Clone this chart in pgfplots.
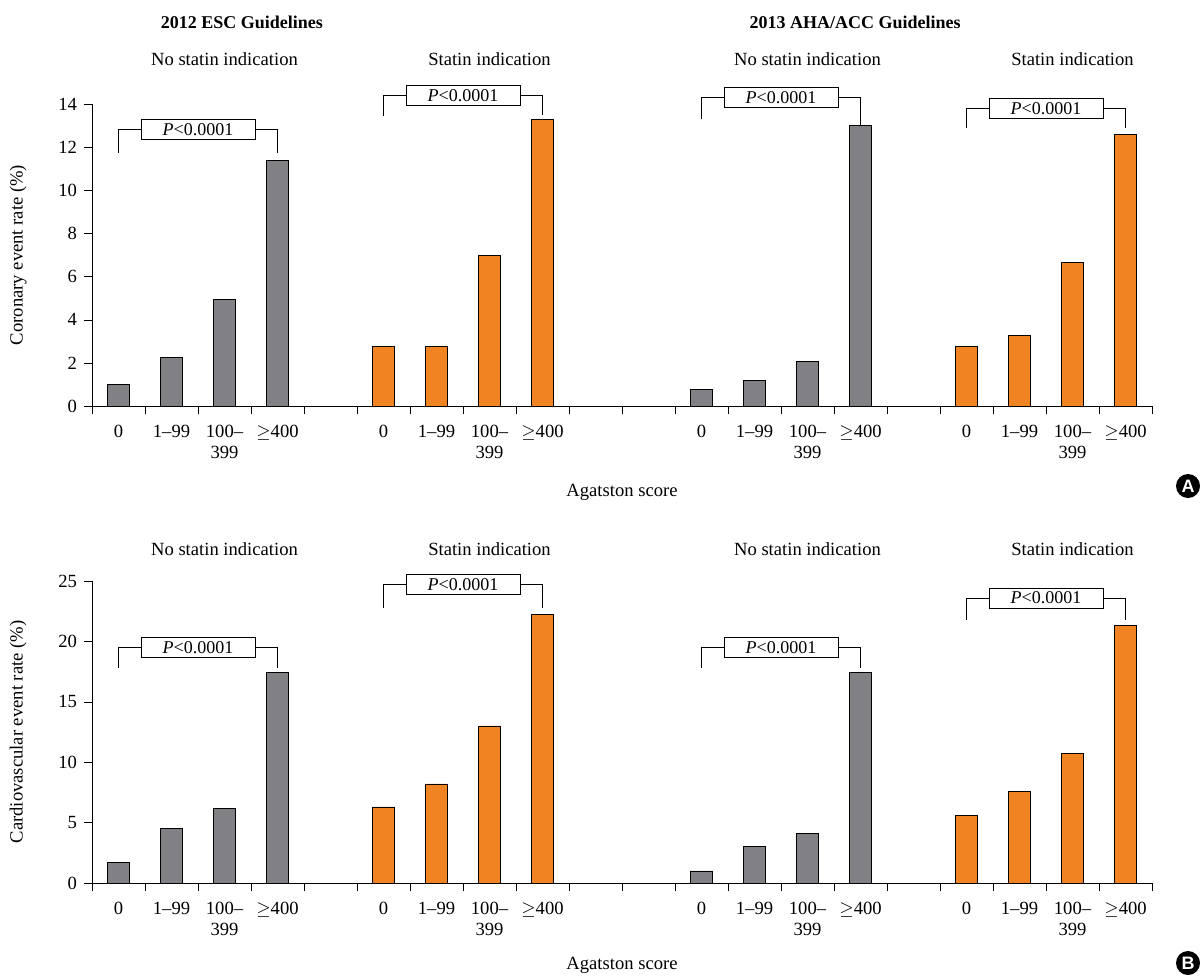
\documentclass[border=0pt]{standalone}
\usepackage{pgfplots}
\pgfplotsset{compat=1.18}
\usepackage{fontspec}
\setmainfont{Liberation Serif}
\setsansfont{Liberation Sans}
\definecolor{gbar}{HTML}{808085}
\definecolor{obar}{HTML}{F08422}
\tikzset{pbox/.style={draw, fill=white, minimum width=57pt, minimum height=10pt, inner sep=1pt, font=\fontsize{9}{10}\selectfont}}
\pgfplotsset{
  myax/.style={
    scale only axis, width=530pt, height=151pt,
    xmin=-0.5, xmax=19.5, ymin=0,
    axis x line*=bottom, axis y line*=left,
    ybar, bar width=0.42, bar shift=0pt,
    xtick={0,1,2,3,5,6,7,8,11,12,13,14,16,17,18,19},
    xticklabels={0,1--99,{100--\\399},$\geq$400,0,1--99,{100--\\399},$\geq$400,0,1--99,{100--\\399},$\geq$400,0,1--99,{100--\\399},$\geq$400},
    xticklabel style={align=center, text depth=0pt},
    x tick label style={yshift=-2pt},
    major x tick style={draw=none},
    minor xtick={-0.5,0.5,...,19.5},
    minor tick length=4pt,
    tick align=outside, major tick length=4pt,
    tick style={black},
    clip=false,
    every axis plot/.append style={draw=black, line width=0.4pt},
    font=\fontsize{9.3}{10.5}\selectfont,
    /pgf/number format/assume math mode=true,
    ylabel style={yshift=9pt},
  },
}
\newcommand{\brk}[5]{% x1 x2 ylow1 yh ylow2
  \draw (axis cs:#1,#3) -- (axis cs:#1,#4) -- (axis cs:#2,#4) -- (axis cs:#2,#5);
  \node[pbox] at (axis cs:{(#1+#2)/2},#4) {\textit{P}<0.0001};}
\newcommand{\circlet}[1]{\node[circle, fill=black, text=white, inner sep=1pt, minimum size=12pt, font=\sffamily\bfseries\fontsize{9}{10}\selectfont] at (rel axis cs:0,0) [xshift=548pt, yshift=-40pt] {#1};}
\begin{document}
\begin{tikzpicture}
\useasboundingbox (-46pt,-284.5pt) rectangle (556pt,203pt);
\begin{axis}[myax, ymax=14, ytick={0,2,...,14}, ylabel={Coronary event rate (\%)}]
\addplot[fill=gbar] coordinates {(0,1.0) (1,2.25) (2,4.95) (3,11.4) (11,0.75) (12,1.2) (13,2.05) (14,13.0)};
\addplot[fill=obar] coordinates {(5,2.75) (6,2.75) (7,7.0) (8,13.3) (16,2.75) (17,3.25) (18,6.65) (19,12.6)};
\brk{0}{3}{11.73}{12.8}{11.73}
\brk{5}{8}{13.44}{14.4}{13.5}
\brk{11}{14}{13.3}{14.3}{13.0}
\brk{16}{19}{12.9}{13.8}{12.9}
\node at (axis cs:2,16.1) {No statin indication};
\node at (axis cs:7,16.1) {Statin indication};
\node at (axis cs:13,16.1) {No statin indication};
\node at (axis cs:18,16.1) {Statin indication};
\node[font=\bfseries\fontsize{9}{10}\selectfont] at (axis cs:2.33,17.8) {2012 ESC Guidelines};
\node[font=\bfseries\fontsize{9}{10}\selectfont] at (axis cs:13.9,17.8) {2013 AHA/ACC Guidelines};
\node at (rel axis cs:0.5,0) [yshift=-43pt] {Agatston score};
\circlet{A}
\end{axis}
\begin{axis}[myax, at={(0,-238.5pt)}, ymax=25, ytick={0,5,...,25}, ylabel={Cardiovascular event rate (\%)}]
\addplot[fill=gbar] coordinates {(0,1.7) (1,4.5) (2,6.2) (3,17.4) (11,1.0) (12,3.0) (13,4.1) (14,17.4)};
\addplot[fill=obar] coordinates {(5,6.3) (6,8.2) (7,13.0) (8,22.2) (16,5.6) (17,7.6) (18,10.7) (19,21.3)};
\brk{0}{3}{17.8}{19.5}{17.8}
\brk{5}{8}{22.8}{24.7}{22.8}
\brk{11}{14}{17.8}{19.5}{17.8}
\brk{16}{19}{21.8}{23.6}{21.8}
\node at (axis cs:2,27.6) {No statin indication};
\node at (axis cs:7,27.6) {Statin indication};
\node at (axis cs:13,27.6) {No statin indication};
\node at (axis cs:18,27.6) {Statin indication};
\node at (rel axis cs:0.5,0) [yshift=-41pt] {Agatston score};
\circlet{B}
\end{axis}
\end{tikzpicture}
\end{document}
